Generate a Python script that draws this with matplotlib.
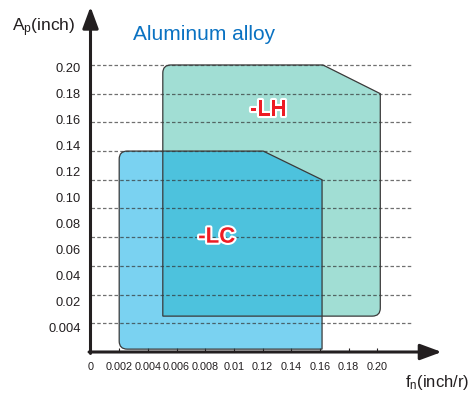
import numpy as np
import matplotlib
matplotlib.use("Agg")
import matplotlib.pyplot as plt
import matplotlib.patheffects as pe
from matplotlib.path import Path
from matplotlib.patches import PathPatch

plt.rcParams['font.family'] = ['Liberation Sans', 'DejaVu Sans']

# tick labels; x labels sit on the ticks, y labels are spaced a bit tighter than the guide lines
x_labels = ['0', '0.002', '0.004', '0.006', '0.008', '0.01', '0.12', '0.14', '0.16', '0.18', '0.20']
y_labels = ['0.004', '0.02', '0.04', '0.06', '0.08', '0.10', '0.12', '0.14', '0.16', '0.18', '0.20']
y_label_pos = np.linspace(0.87, 9.9, len(y_labels))
guide_lines = [1, 2, 3, 4, 5, 6, 7, 8, 9, 10]

# region outlines in tick-index units (x, y) and corner rounding
lh_x = [2.52, 2.52, 8.1, 10.1, 10.1]
lh_y = [1.25, 10.0, 10.0, 9.0, 1.25]
lh_round = [0, 1, 0, 0, 1]
lc_x = [1.0, 1.0, 6.02, 8.07, 8.07]
lc_y = [0.1, 7.0, 7.0, 6.0, 0.1]
lc_round = [1, 1, 0, 0, 0]
lh_text = (6.2, 8.43)
lc_text = (4.4, 4.0)


def rounded_path(xs, ys, rounds, r=0.28):
    verts = list(zip(xs, ys))
    n = len(verts)
    pts, codes = [], []
    for i in range(n):
        p = np.array(verts[i])
        if not rounds[i]:
            pts.append(p)
            codes.append(Path.LINETO)
            continue
        prv = np.array(verts[i - 1])
        nxt = np.array(verts[(i + 1) % n])
        a = p + (prv - p) / np.linalg.norm(prv - p) * r
        b = p + (nxt - p) / np.linalg.norm(nxt - p) * r
        pts += [a, p, b]
        codes += [Path.LINETO, Path.CURVE3, Path.CURVE3]
    codes[0] = Path.MOVETO
    pts.append(pts[0])
    codes.append(Path.CLOSEPOLY)
    return Path(pts, codes)


fig = plt.figure(figsize=(4.71, 3.94), dpi=100)
x0, y0 = 90.5 / 471, 1 - 352 / 394
ax = fig.add_axes([x0, y0, 351.2 / 471, 345.3 / 394])
ax.set_xlim(0, 12.24)
ax.set_ylim(0, 12.03)
for s in ax.spines.values():
    s.set_visible(False)

lh_path = rounded_path(lh_x, lh_y, lh_round)
lc_path = rounded_path(lc_x, lc_y, lc_round)
ax.add_patch(PathPatch(lh_path, facecolor='#a1ded4', edgecolor='none', zorder=1))
ax.add_patch(PathPatch(lc_path, facecolor=(0, 170 / 255, 230 / 255, 0.52), edgecolor='none', zorder=2))

# dashed guide lines
ax.hlines(guide_lines, 0, 11.24, colors='#333333', alpha=0.7,
          linestyles=(0, (2.8, 1.8)), lw=0.9, zorder=3)

ax.add_patch(PathPatch(lh_path, facecolor='none', edgecolor='#3a3a3a', lw=0.9, zorder=4))
ax.add_patch(PathPatch(lc_path, facecolor='none', edgecolor='#3a3a3a', lw=0.9, zorder=4))

# axes with arrows
arrow = dict(arrowstyle='-|>,head_length=0.65,head_width=0.24', lw=2.2, color='#231f20',
             mutation_scale=20, shrinkA=0, shrinkB=0)
ax.annotate('', xy=(12.24, 0), xytext=(-0.05, 0), arrowprops=arrow, annotation_clip=False, zorder=6)
ax.annotate('', xy=(0, 12.03), xytext=(0, -0.05), arrowprops=arrow, annotation_clip=False, zorder=6)

ax.set_xticks(np.arange(len(x_labels)))
ax.set_xticklabels(x_labels, fontsize=7.8, color='#231f20')
ax.tick_params(axis='x', direction='in', length=3, width=0.8, color='#231f20', pad=7)
ax.xaxis.get_major_ticks()[0].tick1line.set_visible(False)
ax.set_yticks(y_label_pos)
ax.set_yticklabels(y_labels, fontsize=9.3, color='#231f20')
ax.tick_params(axis='y', length=0, pad=7)

stroke = [pe.withStroke(linewidth=3, foreground='white')]
for lbl, pos in (('-LH', lh_text), ('-LC', lc_text)):
    ax.text(pos[0], pos[1], lbl, ha='center', va='center', fontsize=16, fontweight='bold',
            color='#ed1c24', path_effects=stroke, zorder=7)

fig.text(133 / 471, 1 - 40 / 394, 'Aluminum alloy', fontsize=15, color='#0a72c2', va='baseline')
fig.text(12 / 471, 1 - 31 / 394, r'$\mathregular{A_p}$(inch)', fontsize=12.5, color='#231f20', va='baseline')
fig.text(469 / 471, 1 - 387 / 394, r'$\mathregular{f_n}$(inch/r)', fontsize=12, color='#231f20',
         va='baseline', ha='right')

plt.savefig('out.png', dpi=100)
